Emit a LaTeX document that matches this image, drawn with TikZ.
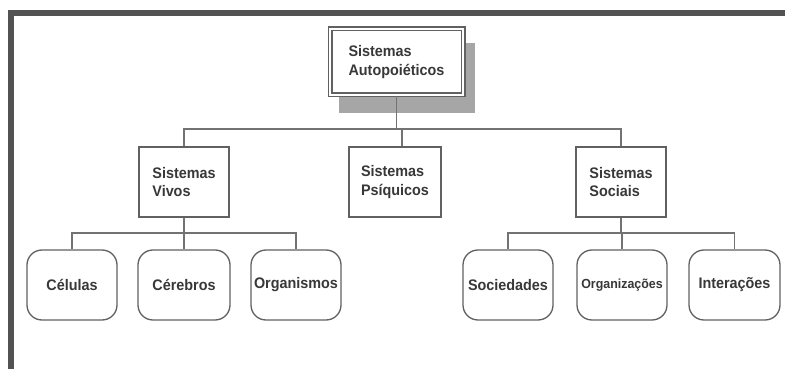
\documentclass[tikz,border=0pt]{standalone}
\usepackage{fontspec}
\setmainfont[FakeStretch=0.94]{Liberation Sans}
\begin{document}
\begin{tikzpicture}[x=1pt,y=-1pt,
  txt/.style={font=\bfseries\fontsize{15.3}{18.5}\selectfont, text=black!78},
  sqbox/.style={draw=black!62, line width=1.3pt, fill=white, minimum width=90pt, minimum height=70pt, inner sep=0pt, align=left, txt},
  rdbox/.style={draw=black!62, line width=1.3pt, fill=white, rounded corners=15pt, minimum width=90pt, minimum height=70pt, inner sep=0pt, txt},
  conn/.style={draw=black!55, line width=1.1pt}]
\useasboundingbox (0,0) rectangle (785,369);
% frame
\fill[black!68] (8,10) rectangle (785,16);
\fill[black!68] (8,10) rectangle (14,369);
% shadow of top box
\fill[black!35] (339,43) rectangle (475,113);
% top box
\node[draw=black!62, line width=1.2pt, double=white, double distance=2.6pt, fill=white,
      minimum width=133pt, minimum height=66pt, inner sep=0pt, align=left, txt]
  (top) at (396.5,62) {Sistemas\\Autopoiéticos};
% middle level
\node[sqbox] (vivos) at (184,182) {Sistemas\\Vivos};
\node[sqbox, minimum width=92pt] (psi) at (395,182) {Sistemas\\Psíquicos};
\node[sqbox] (soc) at (621,182) {Sistemas\\Sociais};
% bottom level
\node[rdbox] (cel) at (72,285) {Células};
\node[rdbox, minimum width=92pt] (cer) at (184,285) {Cérebros};
\node[rdbox] (org) at (296,285) {Organismos};
\node[rdbox] (socd) at (508,285) {Sociedades};
\node[rdbox, font=\bfseries\fontsize{13.2}{15}\selectfont] (orgz) at (622,285) {Organizações};
\node[rdbox, minimum width=91pt] (inter) at (734.5,285) {Interações};
% connectors
\coordinate (bus1) at (0,129);
\coordinate (bus2) at (0,233);
\draw[conn] (top.south) -- (top.south |- bus1);
\draw[conn] (vivos.north) -- (vivos.north |- bus1) -- (soc.north |- bus1) -- (soc.north);
\draw[conn] ([xshift=7pt]psi.north) -- ([xshift=7pt]psi.north |- bus1);
\draw[conn] (vivos.south) -- (vivos.south |- bus2);
\draw[conn] (cel.north) -- (cel.north |- bus2) -- (org.north |- bus2) -- (org.north);
\draw[conn] (cer.north) -- (cer.north |- bus2);
\draw[conn] (soc.south) -- (soc.south |- bus2);
\draw[conn] (socd.north) -- (socd.north |- bus2) -- (inter.north |- bus2) -- (inter.north);
\draw[conn] (orgz.north) -- (orgz.north |- bus2);
\end{tikzpicture}
\end{document}
